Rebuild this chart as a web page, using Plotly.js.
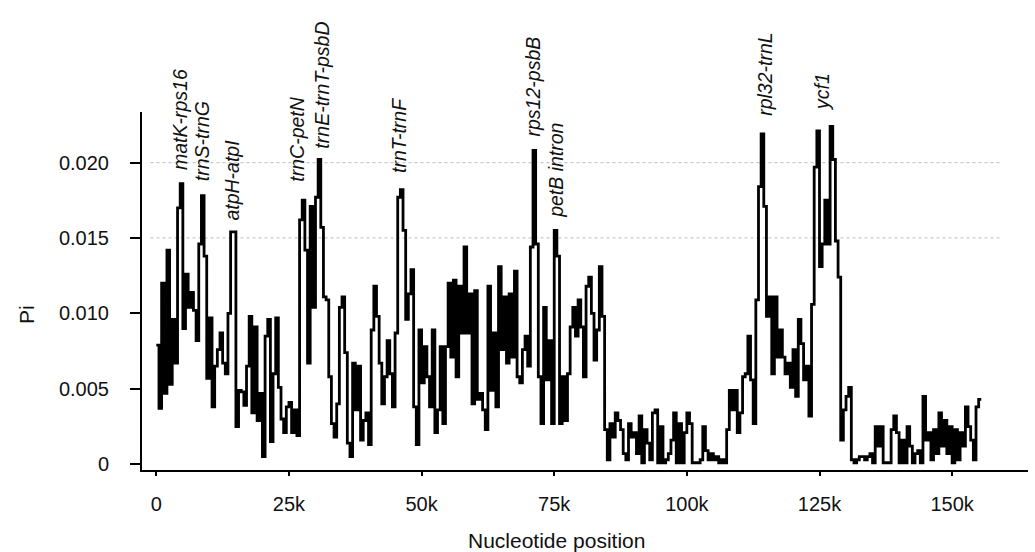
<!DOCTYPE html>
<html>
<head>
<meta charset="utf-8">
<script src="https://cdn.plot.ly/plotly-3.0.1.min.js"></script>
<style>html,body{margin:0;padding:0;background:#fff;}#chart{width:1035px;height:552px;}</style>
</head>
<body>
<div id="chart"></div>
<script>
// Window positions (kb)
const positions = [
  0,0.5,1,1.5,2,2.5,3,3.5,4,4.5,
  5,5.5,6,6.5,7,7.5,8,8.5,9,9.5,
  10,10.5,11,11.5,12,12.5,13,13.5,14,14.5,
  15,15.5,16,16.5,17,17.5,18,18.5,19,19.5,
  20,20.5,21,21.5,22,22.5,23,23.5,24,24.5,
  25,25.5,26,26.5,27,27.5,28,28.5,29,29.5,
  30,30.5,31,31.5,32,32.5,33,33.5,34,34.5,
  35,35.5,36,36.5,37,37.5,38,38.5,39,39.5,
  40,40.5,41,41.5,42,42.5,43,43.5,44,44.5,
  45,45.5,46,46.5,47,47.5,48,48.5,49,49.5,
  50,50.5,51,51.5,52,52.5,53,53.5,54,54.5,
  55,55.5,56,56.5,57,57.5,58,58.5,59,59.5,
  60,60.5,61,61.5,62,62.5,63,63.5,64,64.5,
  65,65.5,66,66.5,67,67.5,68,68.5,69,69.5,
  70,70.5,71,71.5,72,72.5,73,73.5,74,74.5,
  75,75.5,76,76.5,77,77.5,78,78.5,79,79.5,
  80,80.5,81,81.5,82,82.5,83,83.5,84,84.5,
  85,85.5,86,86.5,87,87.5,88,88.5,89,89.5,
  90,90.5,91,91.5,92,92.5,93,93.5,94,94.5,
  95,95.5,96,96.5,97,97.5,98,98.5,99,99.5,
  100,100.5,101,101.5,102,102.5,103,103.5,104,104.5,
  105,105.5,106,106.5,107,107.5,108,108.5,109,109.5,
  110,110.5,111,111.5,112,112.5,113,113.5,114,114.5,
  115,115.5,116,116.5,117,117.5,118,118.5,119,119.5,
  120,120.5,121,121.5,122,122.5,123,123.5,124,124.5,
  125,125.5,126,126.5,127,127.5,128,128.5,129,129.5,
  130,130.5,131,131.5,132,132.5,133,133.5,134,134.5,
  135,135.5,136,136.5,137,137.5,138,138.5,139,139.5,
  140,140.5,141,141.5,142,142.5,143,143.5,144,144.5,
  145,145.5,146,146.5,147,147.5,148,148.5,149,149.5,
  150,150.5,151,151.5,152,152.5,153,153.5,154,154.5,155,155.5
];
// Nucleotide diversity (Pi)
const pi = [
  0.0079,0.0037,0.0120,0.0047,0.0142,0.0053,0.0096,0.0067,0.0170,0.0186,
  0.0090,0.0126,0.0104,0.0114,0.0102,0.0082,0.0146,0.0178,0.0138,0.0057,
  0.0097,0.0038,0.0065,0.0076,0.0087,0.0067,0.0060,0.0100,0.0154,0.0154,
  0.0025,0.0049,0.0048,0.0039,0.0065,0.0098,0.0034,0.0091,0.0029,0.0047,
  0.0005,0.0085,0.0096,0.0015,0.0060,0.0097,0.0051,0.0030,0.0021,0.0038,
  0.0041,0.0021,0.0036,0.0019,0.0162,0.0175,0.0142,0.0067,0.0171,0.0104,
  0.0177,0.0202,0.0157,0.0111,0.0109,0.0058,0.0027,0.0018,0.0040,0.0104,
  0.0111,0.0074,0.0014,0.0005,0.0067,0.0036,0.0065,0.0016,0.0029,0.0034,
  0.0013,0.0089,0.0118,0.0098,0.0067,0.0040,0.0058,0.0082,0.0060,0.0038,
  0.0087,0.0177,0.0182,0.0155,0.0096,0.0113,0.0129,0.0038,0.0013,0.0089,
  0.0054,0.0078,0.0058,0.0038,0.0089,0.0021,0.0036,0.0078,0.0027,0.0078,
  0.0120,0.0071,0.0122,0.0058,0.0118,0.0087,0.0144,0.0087,0.0113,0.0040,
  0.0115,0.0043,0.0047,0.0036,0.0023,0.0118,0.0049,0.0087,0.0038,0.0131,
  0.0076,0.0111,0.0067,0.0113,0.0071,0.0128,0.0058,0.0054,0.0076,0.0085,
  0.0065,0.0144,0.0208,0.0146,0.0058,0.0027,0.0104,0.0056,0.0082,0.0027,
  0.0155,0.0138,0.0027,0.0058,0.0029,0.0060,0.0091,0.0104,0.0085,0.0109,
  0.0091,0.0058,0.0118,0.0124,0.0100,0.0069,0.0089,0.0131,0.0098,0.0023,
  0.0003,0.0027,0.0018,0.0034,0.0029,0.0023,0.0007,0.0003,0.0027,0.0018,
  0.0021,0.0007,0.0032,0.0001,0.0023,0.0014,0.0003,0.0034,0.0036,0.0001,
  0.0025,0.0001,0.0003,0.0007,0.0016,0.0034,0.0001,0.0027,0.0001,0.0021,
  0.0034,0.0027,0.0001,0.0001,0.0001,0.0003,0.0025,0.0009,0.0003,0.0007,
  0.0003,0.0005,0.0001,0.0003,0.0001,0.0023,0.0049,0.0036,0.0049,0.0021,
  0.0034,0.0058,0.0060,0.0085,0.0056,0.0027,0.0109,0.0184,0.0219,0.0171,
  0.0098,0.0111,0.0060,0.0111,0.0071,0.0089,0.0071,0.0060,0.0067,0.0051,
  0.0076,0.0045,0.0096,0.0080,0.0056,0.0065,0.0032,0.0106,0.0197,0.0221,
  0.0131,0.0146,0.0175,0.0146,0.0224,0.0202,0.0148,0.0124,0.0016,0.0036,
  0.0045,0.0051,0.0003,0.0001,0.0003,0.0005,0.0005,0.0003,0.0005,0.0007,
  0.0001,0.0025,0.0012,0.0025,0.0001,0.0001,0.0001,0.0023,0.0032,0.0021,
  0.0001,0.0016,0.0001,0.0025,0.0012,0.0001,0.0007,0.0009,0.0001,0.0045,
  0.0016,0.0021,0.0003,0.0023,0.0007,0.0034,0.0012,0.0029,0.0007,0.0025,
  0.0001,0.0023,0.0003,0.0021,0.0012,0.0038,0.0025,0.0016,0.0003,0.0038,0.0043,0.0043
];
const xTickVals = [0,25,50,75,100,125,150];
const xTickText = ['0','25k','50k','75k','100k','125k','150k'];
const yTickVals = [0,0.005,0.010,0.015,0.020];
const yTickText = ['0','0.005','0.010','0.015','0.020'];
const gridVals = [0.015,0.020];
// Hotspot labels: name, position (kb), Pi level of label base
const labelNames = ['matK-rps16','trnS-trnG','atpH-atpI','trnC-petN','trnE-trnT-psbD','trnT-trnF','rps12-psbB','petB intron','rpl32-trnL','ycf1'];
const labelPos = [4.33,8.61,14.26,26.51,31.22,45.6,71.04,75.18,114.75,125.44];
const labelPi = [0.01936,0.01863,0.01605,0.01863,0.02082,0.01916,0.02161,0.01618,0.02294,0.02327];

const FONT = 'Liberation Sans, Arial, Helvetica, sans-serif';

const trace = {
  type:'scatter', mode:'lines', x:positions, y:pi,
  line:{shape:'hv', color:'#000', width:2.8},
  hoverinfo:'skip'
};

const shapes = gridVals.map(v => ({
  type:'line', xref:'x', yref:'y', x0:-1.1, x1:159.4, y0:v, y1:v,
  line:{color:'#c8c8c8', width:1.2, dash:'dot'}, layer:'below'
}));

const annotations = labelNames.map((t,i) => ({
  text:'<i>'+t+'</i>', x:labelPos[i], y:labelPi[i], xref:'x', yref:'y',
  textangle:-90, xanchor:'center', yanchor:'bottom', showarrow:false,
  font:{family:FONT, size:19.5, color:'#111'}
}));
annotations.push({
  text:'Pi', xref:'paper', yref:'paper', x:(26-142)/886, y:(470-315)/358,
  textangle:-90, xanchor:'center', yanchor:'middle', showarrow:false,
  font:{family:FONT, size:21, color:'#111'}
});
annotations.push({
  text:'Nucleotide position', xref:'paper', yref:'paper', x:(556.5-142)/886, y:(470-540)/358,
  xanchor:'center', yanchor:'middle', showarrow:false,
  font:{family:FONT, size:21, color:'#111'}
});

const layout = {
  width:1035, height:552,
  margin:{l:142, r:7, t:112, b:82, pad:0},
  paper_bgcolor:'#fff', plot_bgcolor:'#fff',
  showlegend:false,
  font:{family:FONT, size:20, color:'#111'},
  xaxis:{
    range:[-2.7,164.3], showline:true, linewidth:2, linecolor:'#000',
    ticks:'outside', ticklen:4, tickwidth:2, tickcolor:'#000',
    tickmode:'array', tickvals:xTickVals, ticktext:xTickText,
    ticklabelstandoff:11,
    showgrid:false, zeroline:false, tickfont:{family:FONT, size:20, color:'#111'},
    fixedrange:true
  },
  yaxis:{
    range:[-0.00038,0.02335], showline:true, linewidth:2, linecolor:'#000',
    ticks:'outside', ticklen:10, tickwidth:2, tickcolor:'#000',
    tickmode:'array', tickvals:yTickVals, ticktext:yTickText,
    ticklabelstandoff:17,
    showgrid:false, zeroline:false, tickfont:{family:FONT, size:20, color:'#111'},
    fixedrange:true
  },
  shapes:shapes,
  annotations:annotations
};

Plotly.newPlot('chart',[trace],layout,{displayModeBar:false, staticPlot:true});
</script>
</body>
</html>
